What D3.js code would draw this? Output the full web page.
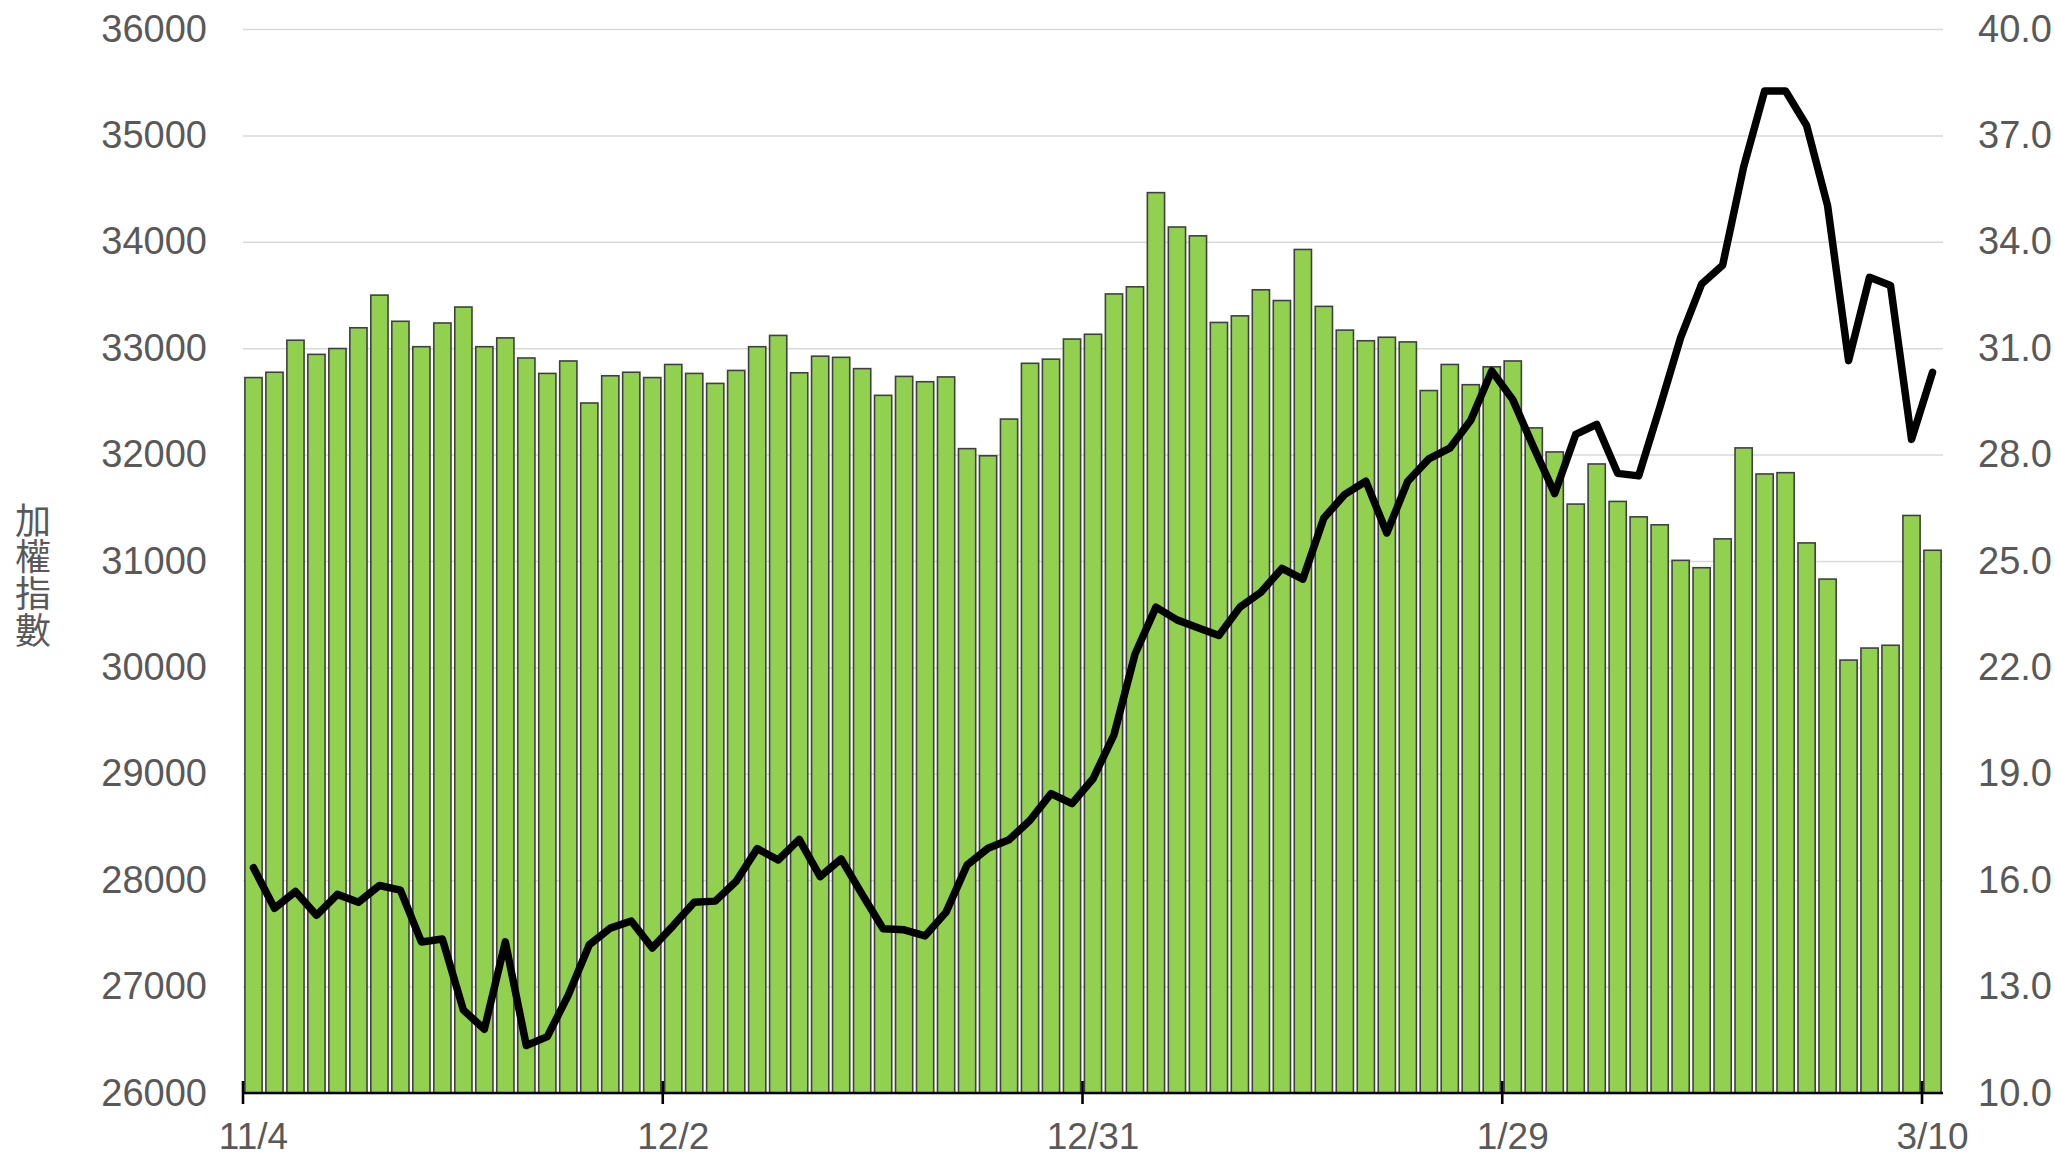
<!DOCTYPE html>
<html>
<head>
<meta charset="utf-8">
<script src="https://cdn.jsdelivr.net/npm/d3@7"></script>
<style>
  html, body { margin: 0; padding: 0; background: #fff; }
  svg { display: block; }
</style>
</head>
<body>
<svg id="chart" width="2055" height="1158"></svg>
<script>
// ---- data ----
const dates = [
  "11/4","11/5","11/6","11/7","11/10","11/11","11/12","11/13","11/14","11/17",
  "11/18","11/19","11/20","11/21","11/24","11/25","11/26","11/27","11/28","12/1",
  "12/2","12/3","12/4","12/5","12/8","12/9","12/10","12/11","12/12","12/15",
  "12/16","12/17","12/18","12/19","12/22","12/23","12/24","12/26","12/29","12/30",
  "12/31","1/2","1/5","1/6","1/7","1/8","1/9","1/12","1/13","1/14",
  "1/15","1/16","1/19","1/20","1/21","1/22","1/23","1/26","1/27","1/28",
  "1/29","1/30","2/2","2/3","2/4","2/5","2/6","2/9","2/10","2/11",
  "2/23","2/24","2/25","2/26","3/2","3/3","3/4","3/5","3/6","3/9",
  "3/10"
];
const indexValues = [
  32724,32774,33075,32942,32997,33192,33499,33253,33014,33237,
  33387,33014,33097,32908,32763,32880,32485,32741,32774,32724,
  32847,32763,32669,32791,33014,33120,32769,32925,32914,32808,
  32557,32735,32685,32730,32056,31989,32334,32858,32897,33086,
  33131,33510,33577,34462,34139,34056,33242,33304,33549,33448,
  33928,33393,33170,33070,33103,33059,32602,32847,32657,32825,
  32880,32251,32025,31535,31912,31560,31415,31340,31006,30937,
  31208,32063,31818,31830,31170,30830,30069,30182,30208,31428,
  31101
];
const rightValues = [
  16.35,15.21,15.68,15.01,15.60,15.38,15.85,15.72,14.26,14.34,
  12.34,11.80,14.26,11.34,11.59,12.76,14.18,14.65,14.85,14.09,
  14.72,15.38,15.41,15.97,16.89,16.57,17.15,16.10,16.60,15.60,
  14.63,14.60,14.43,15.10,16.43,16.90,17.14,17.69,18.44,18.16,
  18.86,20.10,22.37,23.70,23.34,23.12,22.90,23.70,24.12,24.79,
  24.49,26.21,26.88,27.25,25.79,27.25,27.88,28.18,28.97,30.36,
  29.55,28.20,26.90,28.57,28.85,27.47,27.40,29.32,31.30,32.81,
  33.34,36.11,38.25,38.25,37.28,35.02,30.65,33.00,32.77,28.43,
  30.32
];
const xTickLabels = ["11/4","12/2","12/31","1/29","3/10"];
const leftTicks = [26000,27000,28000,29000,30000,31000,32000,33000,34000,35000,36000];
const rightTicks = [10,13,16,19,22,25,28,31,34,37,40];
const yTitle = "加權指數";

(function () {
// ---- layout ----
const pLeft = 243, pRight = 1943, pTop = 29, pBottom = 1093;
const svg = d3.select("#chart");
const textColor = "#595959";
const fontFam = "'Liberation Sans', Arial, sans-serif";

const x = d3.scaleBand().domain(dates).range([pLeft, pRight]).paddingInner(0.18).paddingOuter(0.09);
const yL = d3.scaleLinear().domain([26000, 36000]).range([pBottom, pTop]);
const yR = d3.scaleLinear().domain([10, 40]).range([pBottom, pTop]);
const step = x.step();
const edge = d => x(d) + x.bandwidth() / 2 - step / 2;

// gridlines
const grid = svg.append("g").attr("transform", `translate(${pLeft},0)`)
  .call(d3.axisLeft(yL).tickValues(leftTicks).tickSize(-(pRight - pLeft)).tickFormat(""));
grid.select(".domain").remove();
grid.selectAll(".tick line").attr("stroke", "#d9d9d9").attr("stroke-width", 1.5);

// left axis labels
const gl = svg.append("g").attr("transform", `translate(207,0)`)
  .call(d3.axisLeft(yL).tickValues(leftTicks).tickSize(0).tickPadding(0).tickFormat(d3.format("d")));
gl.select(".domain").remove();
gl.selectAll("text").attr("fill", textColor).attr("font-size", 38).attr("font-family", fontFam);

// right axis labels
const gr = svg.append("g").attr("transform", `translate(1978,0)`)
  .call(d3.axisRight(yR).tickValues(rightTicks).tickSize(0).tickPadding(0).tickFormat(d3.format(".1f")));
gr.select(".domain").remove();
gr.selectAll("text").attr("fill", textColor).attr("font-size", 38).attr("font-family", fontFam);

// bars
svg.append("g").selectAll("rect").data(indexValues).join("rect")
  .attr("x", (d, i) => x(dates[i]))
  .attr("width", x.bandwidth())
  .attr("y", d => yL(d))
  .attr("height", d => pBottom - yL(d))
  .attr("fill", "#92d050")
  .attr("stroke", "#404040")
  .attr("stroke-width", 1.6);

// line
const line = d3.line()
  .x((d, i) => x(dates[i]) + x.bandwidth() / 2)
  .y(d => yR(d));
svg.append("path").datum(rightValues)
  .attr("d", line)
  .attr("fill", "none")
  .attr("stroke", "#000")
  .attr("stroke-width", 7.5)
  .attr("stroke-linejoin", "round")
  .attr("stroke-linecap", "round");

// bottom axis
svg.append("line").attr("x1", pLeft).attr("x2", pRight).attr("y1", pBottom).attr("y2", pBottom)
  .attr("stroke", "#000").attr("stroke-width", 2.6);
svg.append("g").selectAll("line").data(xTickLabels).join("line")
  .attr("x1", d => edge(d)).attr("x2", d => edge(d))
  .attr("y1", 1081).attr("y2", 1104)
  .attr("stroke", "#000").attr("stroke-width", 2.6);
svg.append("g").selectAll("text").data(xTickLabels).join("text")
  .attr("x", d => x(d) + x.bandwidth() / 2)
  .attr("y", 1149)
  .attr("text-anchor", "middle")
  .attr("fill", textColor)
  .attr("font-size", 37)
  .attr("font-family", fontFam)
  .text(d => d);

// y title (vertical, upright characters)
svg.append("text")
  .attr("x", 33)
  .attr("y", 502)
  .attr("writing-mode", "vertical-rl")
  .attr("text-orientation", "upright")
  .attr("letter-spacing", 0.7)
  .attr("fill", textColor)
  .attr("font-size", 36)
  .attr("font-family", "'Noto Sans CJK TC', 'Noto Sans CJK SC', sans-serif")
  .text(yTitle);
})();
</script>
</body>
</html>
